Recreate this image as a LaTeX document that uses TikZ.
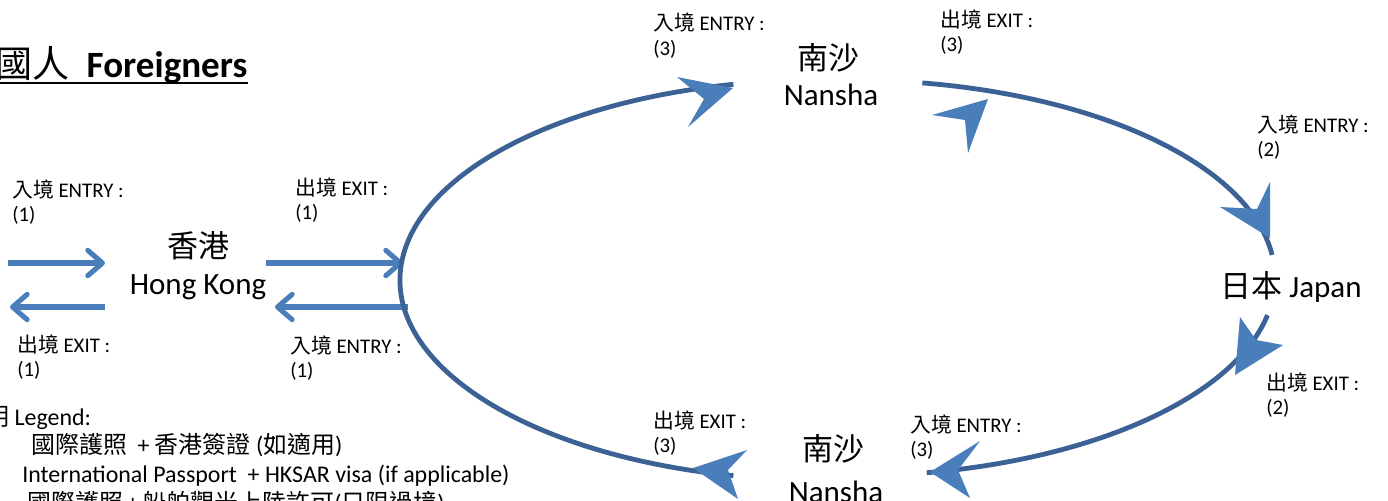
\documentclass[tikz,border=0pt]{standalone}
\usepackage{fontspec}
\setmainfont{Carlito}
\newfontfamily\cjk{Noto Sans CJK TC}
\usetikzlibrary{arrows.meta}
\definecolor{arcblue}{HTML}{3B6195}
\definecolor{tipblue}{HTML}{4A7EBB}
\begin{document}
\begin{tikzpicture}[x=0.75pt,y=-0.75pt,
  lbl/.style={anchor=base west, inner sep=0pt, font=\fontsize{15.6}{18}\selectfont},
  big/.style={anchor=base, inner sep=0pt, font=\fontsize{23.25}{28}\selectfont},
  leg/.style={anchor=base west, inner sep=0pt, font=\fontsize{17.95}{21}\selectfont},
  arcline/.style={draw=arcblue, line width=3.6pt},
  hkarrow/.style={draw=tipblue, line width=3.8pt, -{Straight Barb[length=11pt,width=19pt,round]}},
  headfill/.style={fill=tipblue, draw=none}]
\useasboundingbox (0,0) rectangle (1388,500);
\clip (0,0) rectangle (1388,500);

% title
\node[anchor=base west, inner sep=0pt, font=\fontsize{27.8}{32}\selectfont] (title) at (-5,77)
  {{\cjk 國人}\hspace{13pt}\textbf{Foreigners}};
\coordinate (ul) at (0,83);
\draw[line width=1.5pt] (ul) -- (title.east |- ul);

% places
\node[big] (hkzh) at (198,257) {\cjk 香港};
\node[big] (hk) at (198,294) {Hong Kong};
\node[big] (nstzh) at (828,69) {\cjk 南沙};
\node[big] (nst) at (831,105) {Nansha};
\node[big] (nsbzh) at (833,460) {\cjk 南沙};
\node[big] (nsb) at (836,502) {Nansha};
\node[big] (jp) at (1291,297) {{\cjk 日本} Japan};

% labels
\node[lbl] (l1) at (12,197) {{\cjk 入境} ENTRY :};
\node[lbl] (l1n) at (12,221) {(1)};
\node[lbl] (l2) at (295,195) {{\cjk 出境} EXIT :};
\node[lbl] (l2n) at (295,219) {(1)};
\node[lbl] (l3) at (17,352) {{\cjk 出境} EXIT :};
\node[lbl] (l3n) at (17,376) {(1)};
\node[lbl] (l4) at (290,353) {{\cjk 入境} ENTRY :};
\node[lbl] (l4n) at (290,377) {(1)};
\node[lbl] (l5) at (653,30) {{\cjk 入境} ENTRY :};
\node[lbl] (l5n) at (653,55) {(3)};
\node[lbl] (l6) at (940,27) {{\cjk 出境} EXIT :};
\node[lbl] (l6n) at (940,51) {(3)};
\node[lbl] (l7) at (1257,132) {{\cjk 入境} ENTRY :};
\node[lbl] (l7n) at (1257,156) {(2)};
\node[lbl] (l8) at (1266,390) {{\cjk 出境} EXIT :};
\node[lbl] (l8n) at (1266,414) {(2)};
\node[lbl] (l9) at (653,428) {{\cjk 出境} EXIT :};
\node[lbl] (l9n) at (653,452) {(3)};
\node[lbl] (l10) at (910,432) {{\cjk 入境} ENTRY :};
\node[lbl] (l10n) at (910,456) {(3)};

% legend
\node[leg] (legh) at (-15,425) {{\cjk 明} Legend:};
\node[leg] (leg1) at (31,453) {{\cjk 國際護照}\hspace{8pt}+ {\cjk 香港簽證} ({\cjk 如適用})};
\node[leg] (leg2) at (22,482) {International Passport\ \ + HKSAR visa (if applicable)};
\node[leg] (leg3) at (27,511) {{\cjk 國際護照}\,+\,{\cjk 船舶觀光上陸許可}({\cjk 只限過境})};

% Hong Kong arrows
\coordinate (a1s) at (8,263);   \coordinate (a1e) at (105,263);
\coordinate (a2s) at (266,263); \coordinate (a2e) at (403,263);
\coordinate (a3s) at (105,307); \coordinate (a3e) at (10,307);
\coordinate (a4s) at (408,307); \coordinate (a4e) at (275,307);
\draw[hkarrow] (a1s) -- (a1e);
\draw[hkarrow] (a2s) -- (a2e);
\draw[hkarrow] (a3s) -- (a3e);
\draw[hkarrow] (a4s) -- (a4e);

% big loop
\draw[arcline] (820,280) ++(101.9:420 and 200) arc[start angle=101.9, end angle=258.1, x radius=420, y radius=200];
\draw[arcline] (850,278) ++(-80.2:425 and 198) arc[start angle=-80.2, end angle=-6.7, x radius=425, y radius=198];
\draw[arcline] (850,278) ++(10.8:425 and 198) arc[start angle=10.8, end angle=79.6, x radius=425, y radius=198];

% arrowheads
\fill[headfill] (733,88) -- (677,77) -- (704,99) -- (688,127) -- cycle;
\fill[headfill] (988,99) -- (932,115) -- (965,120) -- (968,153) -- cycle;
\fill[headfill] (1270,238) -- (1220,207) -- (1257,209) -- (1270,182) -- cycle;
\fill[headfill] (1235,375) -- (1240,317) -- (1256,340) -- (1283,345) -- cycle;
\fill[headfill] (930,472) -- (980,441) -- (958,470) -- (970,498) -- cycle;
\fill[headfill] (693,468) -- (747,450) -- (728,470) -- (738,499) -- cycle;
\end{tikzpicture}
\end{document}
